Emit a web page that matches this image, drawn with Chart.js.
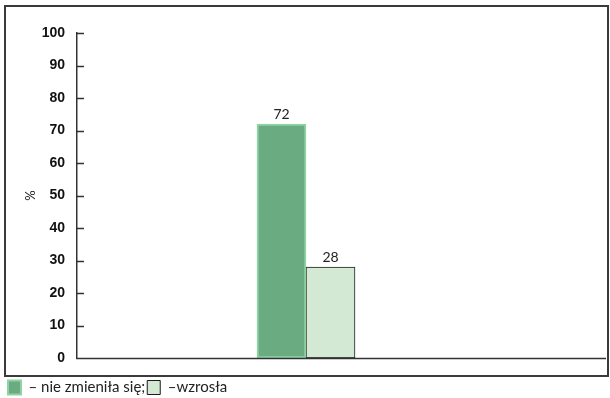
<!DOCTYPE html>
<html>

<head>
    <meta charset="utf-8">
    <title>Zmiana</title>
    <script src="https://cdn.jsdelivr.net/npm/chart.js"></script>
    <style>
        body { margin: 0; background: #fff; }
        #wrap { width: 610px; height: 398px; }
    </style>
</head>

<body>
    <div id="wrap"><canvas id="myChart"></canvas></div>
    <script>
        // data
        const categories = [''];
        const seriesNames = ['– nie zmieniła się;', '–wzrosła'];
        const unchanged = [72];
        const increased = [28];
        const yTicks = [0, 10, 20, 30, 40, 50, 60, 70, 80, 90, 100];

        // frame around the plot
        const framePlugin = {
            id: 'frame',
            beforeDraw(chart) {
                const ctx = chart.ctx;
                ctx.save();
                ctx.strokeStyle = '#3a3a3a';
                ctx.lineWidth = 2;
                ctx.strokeRect(5, 6, 603, 370);
                ctx.restore();
            }
        };

        // ticks pointing into the plot, x axis line to the right frame, value labels
        const extrasPlugin = {
            id: 'extras',
            afterDraw(chart) {
                const ctx = chart.ctx;
                const y = chart.scales.y;
                const area = chart.chartArea;
                ctx.save();
                ctx.strokeStyle = '#333';
                ctx.lineWidth = 1.5;
                ctx.beginPath();
                y.ticks.forEach(t => {
                    if (t.value === 0) return;
                    const py = Math.round(y.getPixelForValue(t.value)) + 0.5;
                    ctx.moveTo(area.left, py);
                    ctx.lineTo(area.left + 7, py);
                });
                const by = Math.round(y.getPixelForValue(0)) + 0.5;
                ctx.moveTo(area.left - 0.75, by);
                ctx.lineTo(606, by);
                ctx.stroke();

                ctx.fillStyle = '#222';
                ctx.font = '14px Lato';
                ctx.textAlign = 'center';
                ctx.textBaseline = 'bottom';
                chart.data.datasets.forEach((ds, i) => {
                    chart.getDatasetMeta(i).data.forEach((el, j) => {
                        ctx.fillText(ds.data[j], el.x, el.y - 3);
                    });
                });
                ctx.restore();
            }
        };

        const config = {
            type: 'bar',
            data: {
                labels: categories,
                datasets: [{
                    label: seriesNames[0],
                    data: unchanged,
                    backgroundColor: '#6aab82',
                    borderColor: '#8fd3a4',
                    borderWidth: 2,
                    borderSkipped: false,
                    barThickness: 49
                }, {
                    label: seriesNames[1],
                    data: increased,
                    backgroundColor: '#d4e9d4',
                    borderColor: '#1a1a1a',
                    borderWidth: 1,
                    borderSkipped: false,
                    barThickness: 49
                }]
            },
            options: {
                responsive: true,
                maintainAspectRatio: false,
                animation: false,
                layout: {
                    padding: { left: 6, right: 75, top: 33, bottom: 0 }
                },
                scales: {
                    x: {
                        grid: { display: false },
                        ticks: { display: false },
                        border: { display: false },
                        afterFit: s => { s.height = 20; }
                    },
                    y: {
                        min: 0,
                        max: 100,
                        afterBuildTicks: s => { s.ticks = yTicks.map(v => ({ value: v })); },
                        grid: { display: false },
                        border: { color: '#333', width: 1.5 },
                        ticks: {
                            padding: 4,
                            color: '#111',
                            font: { family: 'Liberation Sans', size: 14, weight: 'bold' }
                        },
                        title: {
                            display: true,
                            text: '%',
                            color: '#222',
                            padding: { top: 17, bottom: 0 },
                            font: { family: 'Lato', size: 13 }
                        },
                        afterFit: s => { s.width = 71; }
                    }
                },
                plugins: {
                    tooltip: { enabled: false },
                    legend: {
                        position: 'bottom',
                        align: 'start',
                        maxHeight: 20,
                        labels: {
                            boxWidth: 13,
                            boxHeight: 14,
                            padding: 2,
                            color: '#222',
                            font: { family: 'Lato', size: 15 }
                        }
                    }
                }
            },
            plugins: [framePlugin, extrasPlugin]
        };

        var myChart = new Chart(document.getElementById('myChart'), config);
    </script>
</body>

</html>
